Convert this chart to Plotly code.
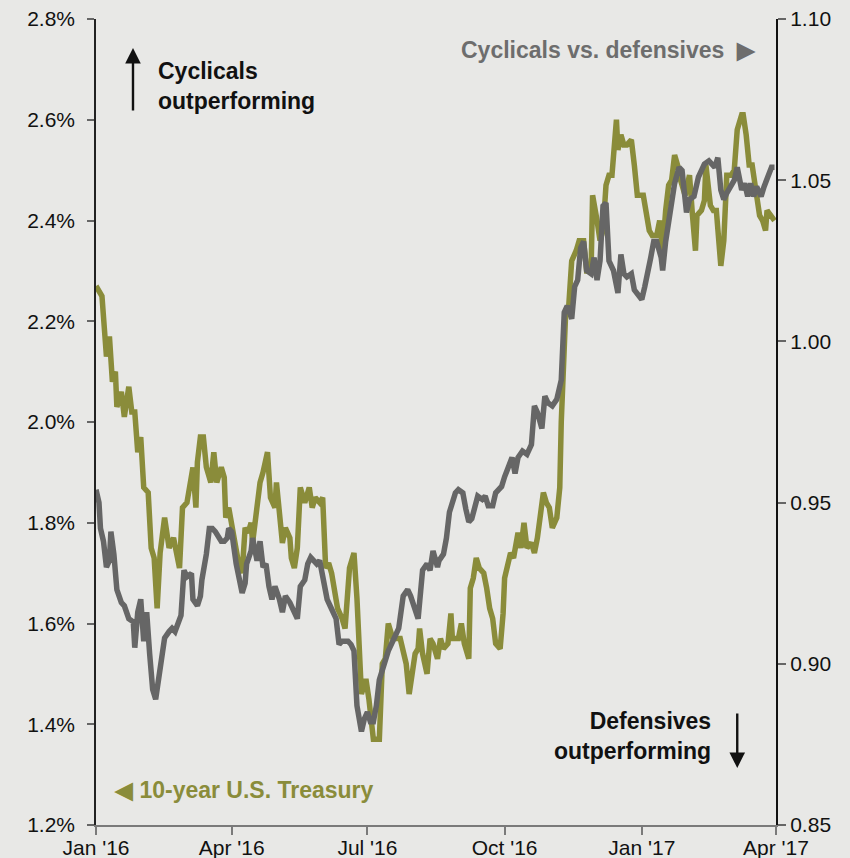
import plotly.graph_objects as go

# 10-year U.S. Treasury yield (%) - left axis
ust_dates = [
    "2016-01-01", "2016-01-05", "2016-01-07", "2016-01-08", "2016-01-10", "2016-01-12", "2016-01-14",
    "2016-01-15", "2016-01-18", "2016-01-20", "2016-01-23", "2016-01-25", "2016-01-27", "2016-01-29",
    "2016-01-31", "2016-02-02", "2016-02-05", "2016-02-07", "2016-02-09", "2016-02-11", "2016-02-13",
    "2016-02-16", "2016-02-19", "2016-02-22", "2016-02-24", "2016-02-26", "2016-02-28", "2016-03-02",
    "2016-03-06", "2016-03-08", "2016-03-09", "2016-03-11", "2016-03-13", "2016-03-15", "2016-03-18",
    "2016-03-20", "2016-03-22", "2016-03-25", "2016-03-27", "2016-03-28", "2016-03-30", "2016-04-01",
    "2016-04-03", "2016-04-05", "2016-04-08", "2016-04-10", "2016-04-12", "2016-04-14", "2016-04-15",
    "2016-04-18", "2016-04-20", "2016-04-22", "2016-04-25", "2016-04-27", "2016-04-30", "2016-05-01",
    "2016-05-03", "2016-05-05", "2016-05-07", "2016-05-10", "2016-05-11", "2016-05-13", "2016-05-15",
    "2016-05-17", "2016-05-20", "2016-05-23", "2016-05-25", "2016-05-27", "2016-05-30", "2016-06-01",
    "2016-06-03", "2016-06-05", "2016-06-07", "2016-06-11", "2016-06-14", "2016-06-16", "2016-06-19",
    "2016-06-22", "2016-06-24", "2016-06-27", "2016-06-30", "2016-07-02", "2016-07-05", "2016-07-09",
    "2016-07-11", "2016-07-13", "2016-07-15", "2016-07-18", "2016-07-20", "2016-07-23", "2016-07-27",
    "2016-07-29", "2016-07-31", "2016-08-02", "2016-08-04", "2016-08-05", "2016-08-07", "2016-08-10",
    "2016-08-12", "2016-08-14", "2016-08-17", "2016-08-19", "2016-08-21", "2016-08-24", "2016-08-26",
    "2016-08-27", "2016-08-29", "2016-08-31", "2016-09-02", "2016-09-04", "2016-09-07", "2016-09-08",
    "2016-09-10", "2016-09-12", "2016-09-14", "2016-09-17", "2016-09-19", "2016-09-21", "2016-09-23",
    "2016-09-25", "2016-09-28", "2016-09-30", "2016-10-01", "2016-10-05", "2016-10-07", "2016-10-10",
    "2016-10-12", "2016-10-14", "2016-10-16", "2016-10-19", "2016-10-21", "2016-10-23", "2016-10-27",
    "2016-10-29", "2016-10-31", "2016-11-02", "2016-11-05", "2016-11-07", "2016-11-08", "2016-11-09",
    "2016-11-11", "2016-11-13", "2016-11-15", "2016-11-18", "2016-11-20", "2016-11-23", "2016-11-25",
    "2016-11-28", "2016-11-29", "2016-12-02", "2016-12-04", "2016-12-06", "2016-12-08", "2016-12-10",
    "2016-12-12", "2016-12-15", "2016-12-16", "2016-12-18", "2016-12-20", "2016-12-22", "2016-12-25",
    "2016-12-27", "2016-12-29", "2017-01-02", "2017-01-04", "2017-01-06", "2017-01-08", "2017-01-11",
    "2017-01-13", "2017-01-15", "2017-01-17", "2017-01-19", "2017-01-21", "2017-01-23", "2017-01-25",
    "2017-01-27", "2017-01-30", "2017-02-02", "2017-02-04", "2017-02-06", "2017-02-07", "2017-02-10",
    "2017-02-12", "2017-02-13", "2017-02-16", "2017-02-18", "2017-02-20", "2017-02-22", "2017-02-23",
    "2017-02-25", "2017-02-27", "2017-03-02", "2017-03-04", "2017-03-06", "2017-03-09", "2017-03-10",
    "2017-03-12", "2017-03-14", "2017-03-16", "2017-03-19", "2017-03-21", "2017-03-23", "2017-03-25",
    "2017-03-26", "2017-03-29", "2017-03-31",
]
ust_yield = [
    2.27, 2.25, 2.17, 2.13, 2.17, 2.08, 2.10,
    2.03, 2.06, 2.01, 2.07, 2.02, 2.02, 1.94,
    1.97, 1.87, 1.86, 1.75, 1.73, 1.63, 1.74,
    1.81, 1.75, 1.77, 1.74, 1.71, 1.83, 1.84,
    1.91, 1.83, 1.92, 1.97, 1.97, 1.91, 1.88,
    1.94, 1.88, 1.91, 1.89, 1.81, 1.83, 1.80,
    1.77, 1.73, 1.70, 1.79, 1.78, 1.80, 1.76,
    1.83, 1.88, 1.90, 1.94, 1.85, 1.83, 1.88,
    1.83, 1.76, 1.79, 1.77, 1.73, 1.71, 1.75,
    1.87, 1.84, 1.87, 1.83, 1.85, 1.84, 1.85,
    1.71, 1.72, 1.70, 1.63, 1.61, 1.59, 1.71,
    1.74, 1.65, 1.46, 1.49, 1.45, 1.37, 1.37,
    1.52, 1.53, 1.60, 1.57, 1.57, 1.57, 1.52,
    1.46, 1.50, 1.54, 1.55, 1.59, 1.54, 1.50,
    1.57, 1.56, 1.53, 1.57, 1.55, 1.56, 1.62,
    1.57, 1.57, 1.57, 1.60, 1.56, 1.53, 1.67,
    1.69, 1.73, 1.71, 1.70, 1.67, 1.63, 1.61,
    1.56, 1.55, 1.62, 1.69, 1.74, 1.73, 1.78,
    1.75, 1.80, 1.75, 1.76, 1.74, 1.77, 1.86,
    1.84, 1.83, 1.79, 1.81, 1.87, 2.00, 2.10,
    2.22, 2.23, 2.32, 2.34, 2.36, 2.36, 2.30,
    2.30, 2.45, 2.40, 2.36, 2.38, 2.47, 2.49,
    2.49, 2.60, 2.54, 2.57, 2.55, 2.55, 2.56,
    2.51, 2.45, 2.45, 2.42, 2.38, 2.37, 2.37,
    2.40, 2.34, 2.42, 2.47, 2.48, 2.53, 2.51,
    2.48, 2.45, 2.49, 2.41, 2.34, 2.41, 2.42,
    2.44, 2.51, 2.43, 2.42, 2.42, 2.36, 2.31,
    2.36, 2.49, 2.49, 2.50, 2.58, 2.61, 2.61,
    2.57, 2.51, 2.51, 2.45, 2.41, 2.40, 2.38,
    2.42, 2.41, 2.40,
]

# Cyclicals vs. defensives relative performance - right axis
cyc_dates = [
    "2016-01-01", "2016-01-03", "2016-01-04", "2016-01-06", "2016-01-08", "2016-01-10", "2016-01-11",
    "2016-01-13", "2016-01-15", "2016-01-18", "2016-01-20", "2016-01-23", "2016-01-26", "2016-01-27",
    "2016-01-29", "2016-01-31", "2016-02-02", "2016-02-04", "2016-02-06", "2016-02-08", "2016-02-10",
    "2016-02-12", "2016-02-14", "2016-02-16", "2016-02-19", "2016-02-21", "2016-02-23", "2016-02-25",
    "2016-02-27", "2016-02-29", "2016-03-02", "2016-03-05", "2016-03-06", "2016-03-09", "2016-03-11",
    "2016-03-12", "2016-03-15", "2016-03-17", "2016-03-19", "2016-03-21", "2016-03-25", "2016-03-27",
    "2016-03-29", "2016-03-30", "2016-04-01", "2016-04-04", "2016-04-06", "2016-04-08", "2016-04-10",
    "2016-04-11", "2016-04-14", "2016-04-15", "2016-04-18", "2016-04-20", "2016-04-22", "2016-04-24",
    "2016-04-26", "2016-04-28", "2016-04-30", "2016-05-03", "2016-05-05", "2016-05-07", "2016-05-10",
    "2016-05-12", "2016-05-15", "2016-05-17", "2016-05-20", "2016-05-22", "2016-05-24", "2016-05-26",
    "2016-05-28", "2016-05-30", "2016-06-02", "2016-06-04", "2016-06-07", "2016-06-10", "2016-06-12",
    "2016-06-14", "2016-06-18", "2016-06-20", "2016-06-22", "2016-06-24", "2016-06-27", "2016-06-29",
    "2016-07-01", "2016-07-03", "2016-07-05", "2016-07-07", "2016-07-09", "2016-07-12", "2016-07-15",
    "2016-07-19", "2016-07-22", "2016-07-25", "2016-07-28", "2016-07-30", "2016-08-02", "2016-08-04",
    "2016-08-07", "2016-08-10", "2016-08-12", "2016-08-14", "2016-08-17", "2016-08-18", "2016-08-21",
    "2016-08-23", "2016-08-25", "2016-08-27", "2016-08-29", "2016-08-31", "2016-09-03", "2016-09-05",
    "2016-09-07", "2016-09-09", "2016-09-11", "2016-09-13", "2016-09-16", "2016-09-18", "2016-09-20",
    "2016-09-23", "2016-09-25", "2016-09-27", "2016-09-29", "2016-10-01", "2016-10-04", "2016-10-06",
    "2016-10-08", "2016-10-10", "2016-10-13", "2016-10-16", "2016-10-19", "2016-10-21", "2016-10-23",
    "2016-10-26", "2016-10-28", "2016-10-30", "2016-11-02", "2016-11-05", "2016-11-08", "2016-11-10",
    "2016-11-12", "2016-11-15", "2016-11-17", "2016-11-19", "2016-11-21", "2016-11-23", "2016-11-25",
    "2016-11-28", "2016-11-30", "2016-12-02", "2016-12-04", "2016-12-06", "2016-12-08", "2016-12-10",
    "2016-12-13", "2016-12-16", "2016-12-18", "2016-12-20", "2016-12-22", "2016-12-25", "2016-12-27",
    "2016-12-29", "2017-01-01", "2017-01-03", "2017-01-05", "2017-01-07", "2017-01-09", "2017-01-11",
    "2017-01-14", "2017-01-15", "2017-01-17", "2017-01-21", "2017-01-23", "2017-01-26", "2017-01-28",
    "2017-01-31", "2017-02-02", "2017-02-05", "2017-02-08", "2017-02-12", "2017-02-15", "2017-02-19",
    "2017-02-21", "2017-02-23", "2017-02-25", "2017-02-27", "2017-03-02", "2017-03-04", "2017-03-06",
    "2017-03-09", "2017-03-11", "2017-03-13", "2017-03-15", "2017-03-17", "2017-03-19", "2017-03-22",
    "2017-03-24", "2017-03-26", "2017-03-29", "2017-03-31",
]
cyc_ratio = [
    0.954, 0.950, 0.942, 0.938, 0.930, 0.932, 0.941,
    0.934, 0.923, 0.919, 0.918, 0.914, 0.913, 0.905,
    0.916, 0.920, 0.907, 0.916, 0.903, 0.892, 0.889,
    0.895, 0.903, 0.908, 0.910, 0.911, 0.910, 0.913,
    0.915, 0.929, 0.927, 0.928, 0.920, 0.918, 0.921,
    0.926, 0.934, 0.942, 0.942, 0.941, 0.938, 0.938,
    0.939, 0.942, 0.941, 0.931, 0.926, 0.922, 0.925,
    0.931, 0.935, 0.939, 0.932, 0.938, 0.930, 0.931,
    0.924, 0.920, 0.924, 0.920, 0.916, 0.921, 0.919,
    0.917, 0.914, 0.924, 0.926, 0.931, 0.933, 0.932,
    0.931, 0.932, 0.925, 0.920, 0.917, 0.914, 0.906,
    0.907, 0.907, 0.906, 0.904, 0.887, 0.879, 0.883,
    0.885, 0.882, 0.882, 0.887, 0.895, 0.900, 0.904,
    0.908, 0.911, 0.921, 0.923, 0.921, 0.917, 0.914,
    0.929, 0.931, 0.929, 0.935, 0.930, 0.932, 0.934,
    0.939, 0.947, 0.950, 0.953, 0.954, 0.953, 0.948,
    0.944, 0.945, 0.949, 0.952, 0.951, 0.952, 0.949,
    0.949, 0.953, 0.954, 0.955, 0.958, 0.962, 0.964,
    0.959, 0.964, 0.966, 0.965, 0.968, 0.980, 0.978,
    0.973, 0.983, 0.981, 0.980, 0.982, 0.988, 1.009,
    1.011, 1.007, 1.017, 1.019, 1.029, 1.031, 1.022,
    1.021, 1.026, 1.019, 1.025, 1.042, 1.043, 1.025,
    1.022, 1.015, 1.027, 1.021, 1.020, 1.021, 1.016,
    1.015, 1.013, 1.017, 1.021, 1.026, 1.031, 1.031,
    1.026, 1.022, 1.031, 1.043, 1.049, 1.054, 1.053,
    1.040, 1.044, 1.045, 1.051, 1.055, 1.056, 1.054,
    1.057, 1.047, 1.044, 1.046, 1.049, 1.050, 1.054,
    1.047, 1.049, 1.045, 1.049, 1.045, 1.048, 1.045,
    1.048, 1.050, 1.054, 1.054,
]

OLIVE = "#8a8c3a"
GRAY = "#666666"
BG = "#e8e8e6"
FONT = "Liberation Sans, Arial, sans-serif"

fig = go.Figure()
fig.add_trace(go.Scatter(
    x=cyc_dates, y=cyc_ratio, yaxis="y2", mode="lines",
    line=dict(color=GRAY, width=5.5), name="Cyclicals vs. defensives",
))
fig.add_trace(go.Scatter(
    x=ust_dates, y=ust_yield, mode="lines",
    line=dict(color=OLIVE, width=5.5), name="10-year U.S. Treasury",
))

fig.update_layout(
    width=850, height=858,
    margin=dict(l=96, r=74, t=19, b=33),
    paper_bgcolor=BG, plot_bgcolor=BG,
    showlegend=False,
    font=dict(family=FONT, size=21, color="#111111"),
    xaxis=dict(
        type="date", range=["2016-01-01", "2017-04-01"],
        tickvals=["2016-01-01", "2016-04-01", "2016-07-01", "2016-10-01", "2017-01-01", "2017-04-01"],
        ticktext=["Jan '16", "Apr '16", "Jul '16", "Oct '16", "Jan '17", "Apr '17"],
        showgrid=False, zeroline=False, automargin=False,
        showline=True, linecolor="#7a7a7a", linewidth=2,
        ticks="outside", ticklen=8, tickcolor="#7a7a7a", tickwidth=1.5,
        ticklabelstandoff=-5,
    ),
    yaxis=dict(
        range=[1.2, 2.8], dtick=0.2, tickformat=".1f", ticksuffix="%",
        showgrid=False, zeroline=False, automargin=False,
        showline=True, linecolor="#222222", linewidth=1.5,
        ticks="outside", ticklen=7, tickcolor="#666666", tickwidth=1.5,
        ticklabelstandoff=8,
    ),
    yaxis2=dict(
        range=[0.85, 1.10], dtick=0.05, tickformat=".2f",
        overlaying="y", side="right",
        showgrid=False, zeroline=False, automargin=False,
        showline=True, linecolor="#111111", linewidth=2,
        ticks="outside", ticklen=8, tickcolor="#666666", tickwidth=1.5,
    ),
)

bold = dict(family=FONT, size=23, color="#111111")
fig.add_annotation(
    xref="paper", yref="paper", x=0.088, y=0.917, xanchor="left", yanchor="middle",
    text="<b>Cyclicals<br>outperforming</b>", showarrow=False, align="left", font=bold,
)
fig.add_annotation(
    xref="paper", yref="paper", x=0.0544, y=0.964, text="", showarrow=True,
    ax=0, ay=64, arrowhead=2, arrowsize=1.3, arrowwidth=2.4, arrowcolor="#111111",
)
fig.add_annotation(
    xref="paper", yref="paper", x=0.907, y=0.110, xanchor="right", yanchor="middle",
    text="<b>Defensives<br>outperforming</b>", showarrow=False, align="right", font=bold,
)
fig.add_annotation(
    xref="paper", yref="paper", x=0.943, y=0.0707, text="", showarrow=True,
    ax=0, ay=-56, arrowhead=2, arrowsize=1.3, arrowwidth=2.4, arrowcolor="#111111",
)
fig.add_annotation(
    xref="paper", yref="paper", x=0.974, y=0.961, xanchor="right", yanchor="middle",
    text="<b>Cyclicals vs. defensives  ▶</b>", showarrow=False,
    font=dict(family=FONT, size=23, color="#6d6d6d"),
)
fig.add_annotation(
    xref="paper", yref="paper", x=0.0235, y=0.0434, xanchor="left", yanchor="middle",
    text="<b>◀ 10-year U.S. Treasury</b>", showarrow=False,
    font=dict(family=FONT, size=23, color=OLIVE),
)

# drop the page's default body margin so the figure sits at the window's corner
page_fix = "document.body.style.margin='0';document.body.style.background='" + BG + "';"
fig.write_html("out.html", post_script=page_fix, config={"displayModeBar": False})
